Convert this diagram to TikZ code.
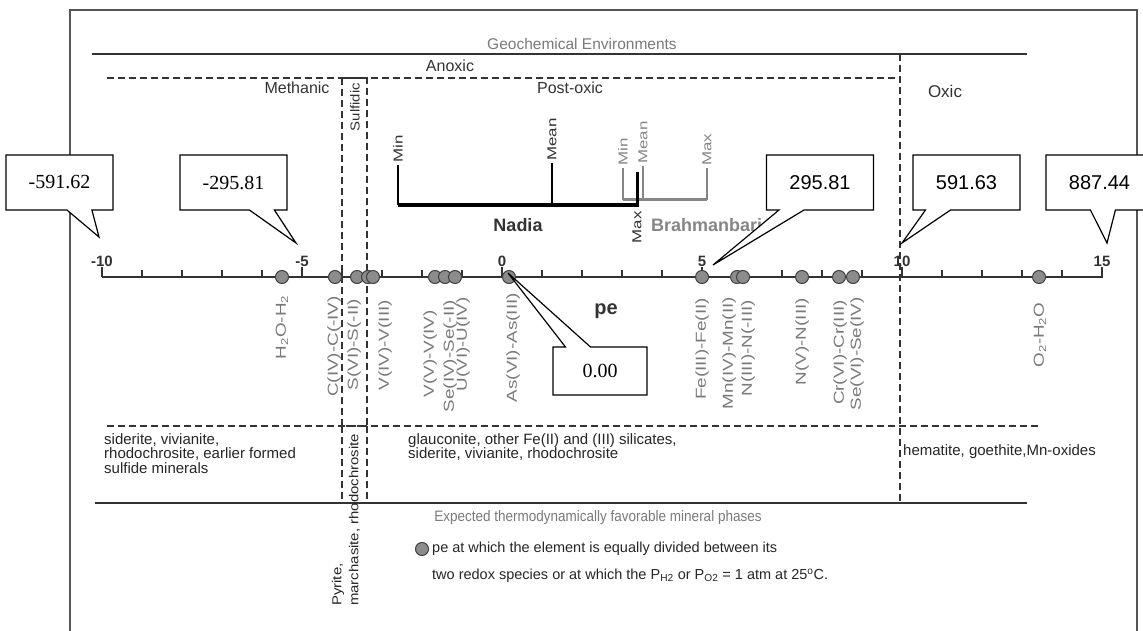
\documentclass[tikz,border=0pt]{standalone}
\usepackage{fontspec}
\setmainfont{Liberation Sans}
\newfontfamily\calloutserif{Liberation Serif}
\usepackage{graphicx}
\definecolor{FrameGray}{HTML}{555555}
\definecolor{LineDark}{HTML}{333333}
\definecolor{LabelGray}{HTML}{7A7A7A}
\definecolor{DotFill}{HTML}{8C8C8C}
\definecolor{DotEdge}{HTML}{404040}
\definecolor{BrahGray}{HTML}{868686}
\usetikzlibrary{shapes.callouts}

\begin{document}
\begin{tikzpicture}[x=1pt, y=-1pt,
  zone/.style={font=\fontsize{16}{18}\selectfont, text=LineDark},
  heading/.style={font=\fontsize{15.5}{17}\selectfont, text=LabelGray},
  divider/.style={line width=1.6pt, draw=LineDark},
  dashdiv/.style={line width=1.7pt, draw=LineDark, dash pattern=on 7pt off 4pt},
  axisline/.style={draw=LineDark, line width=2pt},
  ticklbl/.style={font=\bfseries\fontsize{15}{17}\selectfont, text=LineDark, inner sep=0pt},
  species/.style={rotate=90, anchor=east, inner sep=0pt, text=LabelGray,
                  font=\fontsize{14.5}{16}\selectfont},
  eqdot/.style={circle, minimum size=13pt, inner sep=0pt, fill=DotFill,
                draw=DotEdge, line width=1pt},
  rangelbl/.style={rotate=90, inner sep=0pt, font=\fontsize{13}{15}\selectfont},
  mineral/.style={align=left, inner sep=0pt, text=black!85,
                  font=\fontsize{15}{14.5}\selectfont},
  callout/.style={rectangle callout, draw=black, fill=white, line width=1.2pt,
                  minimum width=107pt, minimum height=55pt,
                  callout pointer width=25pt, font=\fontsize{20}{22}\selectfont},
]
\useasboundingbox (0,0) rectangle (1143,631);
\fill[white] (0,0) rectangle (1143,631);

% outer frame and zone dividers
\draw[draw=FrameGray, line width=2.5pt] (70,631) -- (70,10) -- (1137,10) -- (1137,631);
\draw[divider] (92,54) -- (1027,54);
\draw[dashdiv] (107,78) -- (900,78);
\draw[dashdiv] (900,54) -- (900,503);
\draw[dashdiv] (342,78) rectangle (367,426);
\draw[dashdiv] (342,426) -- (342,503) (367,426) -- (367,500);
\draw[dashdiv] (107,426) -- (1040,426);
\draw[divider] (95,503) -- (1027,503);

\node[heading] (geo) at (582,44) {Geochemical Environments};
\node[zone] (anoxic) at (450,66) {Anoxic};
\node[zone] (methanic) at (297,88) {Methanic};
\node[zone] (postoxic) at (570,88) {Post-oxic};
\node[zone, font=\fontsize{17}{19}\selectfont] (oxic) at (945,91) {Oxic};
\node[rangelbl, text=LineDark] (sulfidic) at (355,107) {\scalebox{1.15}[1]{Sulfidic}};

% pe axis
\draw[axisline] (102,277) -- (1103,277);
\foreach \p in {-10,...,15}
  \draw[draw=LineDark, line width=1.2pt] ({502+40*\p},277) -- ++(0,-7);
\foreach \p in {-10,-5,...,15} {
  \draw[axisline] ({502+40*\p},277) -- ++(0,-10);
  \node[ticklbl] (t\p) at ({502+40*\p},261) {\p};
}
\node[font=\bfseries\fontsize{20}{22}\selectfont, text=LineDark] (pe) at (606,311) {pe};

% pe ranges of the two districts
\draw[draw=BrahGray, line width=3pt] (623,200) -- (707,200);
\foreach \x/\top in {623/168, 643/166, 707/168}
  \draw[draw=BrahGray, line width=1.5pt] (\x,\top) -- (\x,200);
\node[rangelbl, anchor=west, text=BrahGray] (bmin) at (623,166) {\scalebox{1.3}[1]{Min}};
\node[rangelbl, anchor=west, text=BrahGray] (bmean) at (643,164) {\scalebox{1.3}[1]{Mean}};
\node[rangelbl, anchor=west, text=BrahGray] (bmax) at (707,166) {\scalebox{1.3}[1]{Max}};
\draw[draw=black, line width=4pt] (398,205) -- (637,205);
\draw[line width=1.5pt] (398,165) -- (398,205) (552,163) -- (552,205);
\draw[line width=3pt] (637,172) -- (637,207);
\node[rangelbl, anchor=west, text=LineDark] (nmin) at (398,163) {\scalebox{1.3}[1]{Min}};
\node[rangelbl, anchor=west, text=LineDark] (nmean) at (552,161) {\scalebox{1.3}[1]{Mean}};
\node[rangelbl, anchor=east, text=LineDark] (nmax) at (637,211) {\scalebox{1.3}[1]{Max}};
\node[font=\bfseries\fontsize{18}{20}\selectfont, text=LineDark] (nadia) at (518,225) {Nadia};
\node[font=\bfseries\fontsize{18}{20}\selectfont, text=BrahGray, anchor=west,
      inner sep=0pt] (brahman) at (651,225) {Brahmanbari};

% redox couples
\foreach \x [count=\i] in {282,335,357,368,373,435,445,455,509,702,737,743,802,839,853,1039}
  \node[eqdot] (dot\i) at (\x,277) {};
\foreach \x/\y/\couple in {
  282/295/H\textsubscript{2}O-H\textsubscript{2},
  334/296/C(IV)-C(-IV),
  354/299/S(VI)-S(-II),
  385/300/V(IV)-V(III),
  430/310/V(V)-V(IV),
  450/300/Se(IV)-Se(-II),
  463/297/U(VI)-U(IV),
  513/293/As(VI)-As(III),
  702/298/Fe(III)-Fe(II),
  729/297/Mn(IV)-Mn(II),
  748/300/N(III)-N(-III),
  802/298/N(V)-N(III),
  840/300/Cr(VI)-Cr(III),
  857/297/Se(VI)-Se(IV),
  1040/297/O\textsubscript{2}-H\textsubscript{2}O
} {
  \node[species] (sp\x) at (\x,\y) {\scalebox{1.3}[1]{\couple}};
}

% mineral phases
\node[mineral, anchor=north west] (minmeth) at (104,433)
  {siderite, vivianite,\\rhodochrosite, earlier formed\\sulfide minerals};
\node[mineral, anchor=north west] (minpost) at (408,433)
  {glauconite, other Fe(II) and (III) silicates,\\siderite, vivianite, rhodochrosite};
\node[mineral, anchor=west] (minoxic) at (903,452) {hematite, goethite,Mn-oxides};
\node[mineral, rotate=90, anchor=west, font=\fontsize{13}{17}\selectfont] (minsulf)
  at (346,606) {\scalebox{1.15}[1]{Pyrite,}\\\scalebox{1.15}[1]{marchasite, rhodochrosite}};
\node[heading, font=\fontsize{13.5}{16}\selectfont] (expected) at (598,518)
  {\scalebox{1}[1.12]{Expected thermodynamically favorable mineral phases}};

% legend
\node[eqdot] (legdot) at (422,549) {};
\node[mineral, anchor=west, font=\fontsize{14.5}{27}\selectfont] (legtxt) at (432,562)
  {pe at which the element is equally divided between its\\
   two redox species or at which the P\textsubscript{H2} or P\textsubscript{O2} = 1 atm at 25\textsuperscript{o}C.};

% value callouts
\coordinate (tipA) at (99,237);
\coordinate (tipB) at (296,243);
\coordinate (tipC) at (508,273);
\coordinate (tipD) at (713,265);
\coordinate (tipE) at (902,243);
\coordinate (tipF) at (1107,243);
\node[callout, font=\calloutserif\fontsize{20}{22}\selectfont,
      callout absolute pointer={(tipA)}] (cA) at (59.5,182.5) {-591.62};
\node[callout, font=\calloutserif\fontsize{20}{22}\selectfont,
      callout absolute pointer={(tipB)}] (cB) at (233.5,182.5) {-295.81};
\node[callout, font=\calloutserif\fontsize{20}{22}\selectfont,
      minimum width=94pt, minimum height=48pt,
      callout absolute pointer={(tipC)}] (cC) at (600,371) {0.00};
\node[callout, callout absolute pointer={(tipD)}] (cD) at (820,182.5) {295.81};
\node[callout, callout absolute pointer={(tipE)}] (cE) at (966.5,182.5) {591.63};
\node[callout, callout absolute pointer={(tipF)}] (cF) at (1099.5,182.5) {887.44};
\end{tikzpicture}
\end{document}
